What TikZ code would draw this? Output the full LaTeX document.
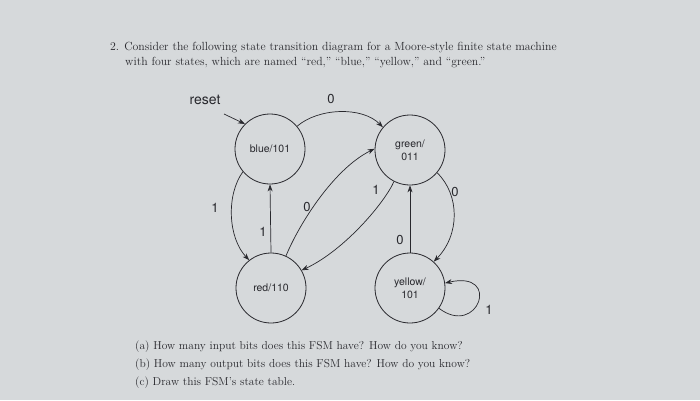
\documentclass[tikz,border=0pt]{standalone}
\usepackage{fontspec}
\newfontfamily\hv{TeX Gyre Heros}
\usetikzlibrary{arrows.meta}
\definecolor{bg}{RGB}{214,217,219}
\definecolor{ink}{RGB}{40,40,45}
\begin{document}
\begin{tikzpicture}[x=1pt,y=-1pt,
  state/.style={circle,draw=ink,line width=0.8pt,minimum size=70pt,inner sep=0pt,
    font=\hv\fontsize{10.5}{13}\selectfont,align=center,text=ink},
  arr/.style={-{Stealth[length=7pt,width=5pt]},draw=ink,line width=0.7pt},
  lbl/.style={font=\hv\fontsize{13}{14}\selectfont,text=ink,inner sep=0pt},
  q/.style={anchor=base west,font=\fontsize{11.5}{13}\selectfont,text=ink,inner sep=0pt},
  hd/.style={anchor=base west,font=\fontsize{11.8}{13}\selectfont,text=ink,inner sep=0pt}]
\fill[bg] (0,0) rectangle (700,400);
\useasboundingbox (0,0) rectangle (700,400);

\node[hd] (l1) at (110,50) {2. Consider the following state transition diagram for a Moore-style finite state machine};
\node[hd] (l2) at (125,65) {with four states, which are named “red,” “blue,” “yellow,” and “green.”};

\node[state] (blue) at (270,149) {blue/101};
\node[state] (green) at (410,150) {green/\\011};
\node[state] (red) at (271,288) {red/110};
\node[state] (yellow) at (410,288) {yellow/\\101};

\node[lbl,font=\hv\fontsize{14}{15}\selectfont] (reset) at (205,100) {reset};
\coordinate (rs) at (224,114);
\draw[arr] (rs) -- (blue.135);

\draw[arr] (blue.40) .. controls (318,108) and (362,106) .. (green.140);
\node[lbl] (l0a) at (331,99) {0};

\draw[arr] (blue.220) .. controls (226,195) and (228,238) .. (red.128);
\node[lbl] (l1a) at (215,208) {1};

\draw[arr] (red.north) -- (blue.south);
\node[lbl] (l1b) at (263,232) {1};

\draw[arr] (red.65) .. controls (300,222) and (335,168) .. (green.178);
\node[lbl] (l0b) at (307,207) {0};

\draw[arr] (green.243) .. controls (385,202) and (345,250) .. (red.30);
\node[lbl] (l1c) at (376,190) {1};

\draw[arr] (green.-40) .. controls (460,195) and (460,235) .. (yellow.48);
\node[lbl] (l0c) at (455,192) {0};

\draw[arr] (yellow.north) -- (green.south);
\node[lbl] (l0d) at (400,240) {0};

\draw[arr] (yellow.-35) .. controls (478,338) and (502,270) .. (yellow.8);
\node[lbl] (l1d) at (489,310) {1};

\node[q] (qa) at (135,349) {(a) How many input bits does this FSM have? How do you know?};
\node[q] (qb) at (135,367) {(b) How many output bits does this FSM have? How do you know?};
\node[q] (qc) at (135,385) {(c) Draw this FSM's state table.};
\end{tikzpicture}
\end{document}
